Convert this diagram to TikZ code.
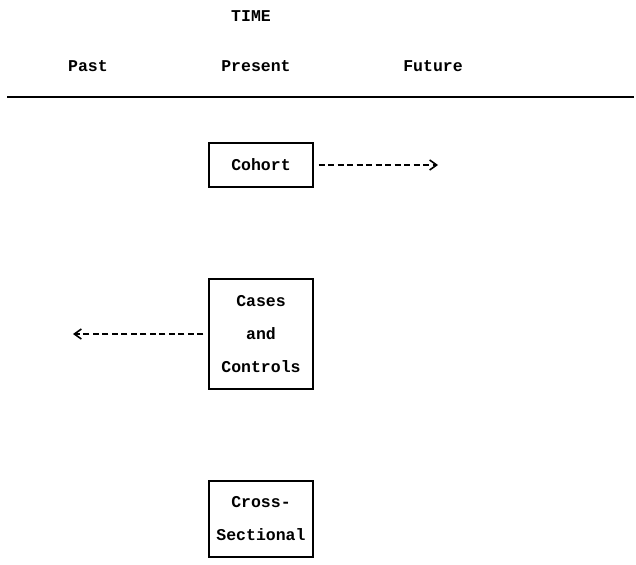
\documentclass[tikz,border=0pt]{standalone}
\usepackage{fontspec}
\setmonofont{Liberation Mono}
\usetikzlibrary{arrows.meta,positioning}

\newcommand{\studyfont}{\ttfamily\bfseries\fontsize{16.5}{33}\selectfont}

\tikzset{
  label/.style={font=\studyfont},
  design/.style={draw, line width=1.2pt, minimum width=104pt, inner sep=0pt, align=center, font=\studyfont},
  track/.style={line width=1.8pt, dash pattern=on 6pt off 3.5pt, shorten <=5pt,
    -{Straight Barb[length=7pt, width=10pt, line width=1.6pt]}},
}

\begin{document}
\begin{tikzpicture}[x=1pt, y=-1pt]

    \useasboundingbox (0,0) rectangle (636,564);

    % Time axis
    \node[label] (time) at (251,16) {TIME};
    \node[label] (past) at (88,66) {Past};
    \node[label] (present) at (256,66) {Present};
    \node[label] (future) at (433,66) {Future};
    \draw[line width=1.8pt] (7,97) -- (634,97);

    % Study designs
    \node[design, minimum height=44pt] (cohort) at (261,165) {Cohort};
    \node[design, minimum height=110pt] (cases) at (261,334) {Cases\\and\\Controls};
    \node[design, minimum height=76pt] (cross) at (261,519) {Cross-\\Sectional};

    % Direction in time
    \coordinate (cohortend) at (438,165);
    \coordinate (casesend) at (73,334);
    \draw[track] (cohort.east) -- (cohortend);
    \draw[track] (cases.west) -- (casesend);

\end{tikzpicture}
\end{document}
